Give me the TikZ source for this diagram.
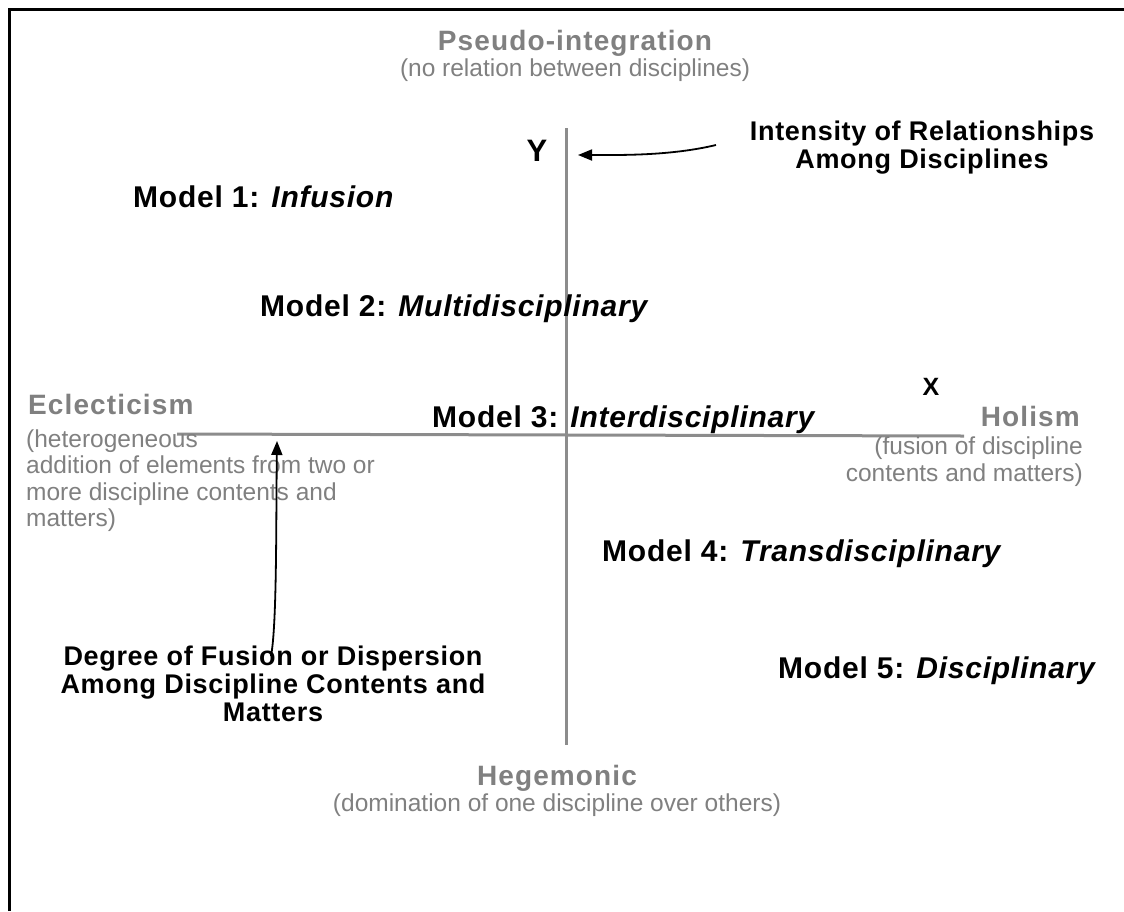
\documentclass[tikz,border=0pt]{standalone}
\usepackage{fontspec}
\setmainfont{Liberation Sans}
\newfontfamily\hd{Liberation Sans}[LetterSpace=2.5]
\newfontfamily\hdg{Liberation Sans}[LetterSpace=4]
\usetikzlibrary{arrows.meta}
\definecolor{txtgray}{HTML}{808080}
\definecolor{axisgray}{HTML}{8C8C8C}
\tikzset{
  boldlab/.style={inner sep=0pt, font=\hd\bfseries\fontsize{30}{34}\selectfont, text=black},
  captionlab/.style={inner sep=0pt, align=center, font=\hd\bfseries\fontsize{27}{28}\selectfont, text=black},
  graytitle/.style={inner sep=0pt, font=\hdg\bfseries\fontsize{28}{32}\selectfont, text=txtgray},
  graynote/.style={inner sep=0pt, font=\fontsize{24.5}{26.5}\selectfont, text=txtgray},
  axisline/.style={draw=axisgray, line width=3pt},
  frameline/.style={draw=black, line width=3pt},
  pointer/.style={draw=black, line width=1.8pt, -{Triangle[length=14pt,width=11pt]}}
}
\begin{document}
\begin{tikzpicture}[x=1pt,y=-1pt]
\useasboundingbox (0,0) rectangle (1124,911);
% frame (top and left visible)
\draw[frameline] (9,911) -- (9,9) -- (1124,9);
% axes
\coordinate (ytop) at (566,128);
\coordinate (ybot) at (566,745);
\coordinate (xleft) at (177,434);
\coordinate (xright) at (964,436);
\draw[axisline] (ytop) -- (ybot);
\draw[axisline] (xleft) -- (xright);
% titles
\node[graytitle, anchor=base] (pseudo) at (575,50) {Pseudo-integration};
\node[graynote, anchor=base] (pseudonote) at (575,76) {(no relation between disciplines)};
\node[graytitle, anchor=base] (hegem) at (557,785) {Hegemonic};
\node[graynote, anchor=base] (hegemnote) at (557,811) {(domination of one discipline over others)};
\node[graytitle, anchor=base west] (eclect) at (28,414) {Eclecticism};
\node[graynote, anchor=north west, align=left] (eclectnote) at (26,429.5) {(heterogeneous\\addition of elements from two or\\more discipline contents and\\matters)};
\node[graytitle, anchor=base east] (holism) at (1080,426) {Holism};
\node[graynote, anchor=north east, align=right] (holismnote) at (1083,437) {(fusion of discipline\\contents and matters)};
% axis letters
\node[boldlab, anchor=base, font=\hd\bfseries\fontsize{31}{34}\selectfont] (ylab) at (537,161) {Y};
\node[boldlab, anchor=base, font=\hd\bfseries\fontsize{25}{30}\selectfont] (xlab) at (931,395) {X};
% models
\node[boldlab, anchor=base west] (m1) at (133,207) {Model 1: \textit{Infusion}};
\node[boldlab, anchor=base west] (m2) at (260,316) {Model 2: \textit{Multidisciplinary}};
\node[boldlab, anchor=base west] (m3) at (432,427) {Model 3: \textit{Interdisciplinary}};
\node[boldlab, anchor=base west] (m4) at (602,561) {Model 4: \textit{Transdisciplinary}};
\node[boldlab, anchor=base west] (m5) at (778,678) {Model 5: \textit{Disciplinary}};
% axis captions
\node[captionlab, anchor=north] (intensity) at (922,120.5) {Intensity of Relationships\\Among Disciplines};
\node[captionlab, anchor=north] (degree) at (273,645.5) {Degree of Fusion or Dispersion\\Among Discipline Contents and\\Matters};
% pointers
\coordinate (intstart) at (716,145);
\coordinate (intend) at (578,155);
\draw[pointer] (intstart) .. controls (670,156) and (620,155) .. (intend);
\coordinate (degstart) at (271,656);
\coordinate (degend) at (277,441);
\draw[pointer] (degstart) .. controls (277,625) and (276,520) .. (degend);
\end{tikzpicture}
\end{document}
